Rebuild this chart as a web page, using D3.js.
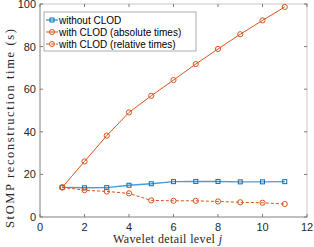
<!DOCTYPE html>
<html>
<head>
<meta charset="utf-8" />
<script src="https://d3js.org/d3.v7.min.js"></script>
<style>
  body { margin: 0; background: #fff; }
  svg text { font-family: "Liberation Sans", Arial, sans-serif; }
</style>
</head>
<body>
<div id="chart"></div>
<script>
// data
var levels = [1, 2, 3, 4, 5, 6, 7, 8, 9, 10, 11];
var withoutClod = [13.9, 13.7, 13.8, 14.9, 15.6, 16.6, 16.7, 16.7, 16.5, 16.5, 16.6];
var clodAbsolute = [13.9, 26.1, 38.2, 49.1, 56.9, 64.3, 71.8, 78.9, 85.8, 92.3, 98.6];
var clodRelative = [13.9, 12.6, 12.0, 11.1, 7.8, 7.6, 7.6, 7.3, 6.9, 6.7, 6.1];
var xTicks = [0, 2, 4, 6, 8, 10, 12];
var yTicks = [0, 20, 40, 60, 80, 100];
var seriesNames = ["without CLOD", "with CLOD (absolute times)", "with CLOD (relative times)"];

var width = 314, height = 247;
var margin = {top: 4, right: 7, bottom: 30, left: 40};

var svg = d3.select("#chart").append("svg")
  .attr("width", width)
  .attr("height", height);

var x = d3.scaleLinear().domain([0, 12]).range([margin.left, width - margin.right]);
var y = d3.scaleLinear().domain([0, 100]).range([height - margin.bottom, margin.top]);

var axisColor = "#262626";
var boxColor = "#c8c8c8";

// box
svg.append("rect")
  .attr("x", x(0)).attr("y", y(100))
  .attr("width", x(12) - x(0)).attr("height", y(0) - y(100))
  .attr("fill", "none").attr("stroke", boxColor).attr("stroke-width", 1);

// tick marks (inward, all four sides)
var tickLen = 3;
xTicks.forEach(function(t) {
  svg.append("line").attr("x1", x(t)).attr("x2", x(t)).attr("y1", y(0)).attr("y2", y(0) - tickLen).attr("stroke", axisColor).attr("stroke-width", 0.6);
  svg.append("line").attr("x1", x(t)).attr("x2", x(t)).attr("y1", y(100)).attr("y2", y(100) + tickLen).attr("stroke", axisColor).attr("stroke-width", 0.6);
  svg.append("text").attr("x", x(t)).attr("y", y(0) + 14)
    .attr("text-anchor", "middle").attr("font-size", 11).attr("fill", axisColor).text(t);
});
yTicks.forEach(function(t) {
  svg.append("line").attr("x1", x(0)).attr("x2", x(0) + tickLen).attr("y1", y(t)).attr("y2", y(t)).attr("stroke", axisColor).attr("stroke-width", 0.6);
  svg.append("line").attr("x1", x(12)).attr("x2", x(12) - tickLen).attr("y1", y(t)).attr("y2", y(t)).attr("stroke", axisColor).attr("stroke-width", 0.6);
  svg.append("text").attr("x", x(0) - 4).attr("y", y(t) + 4)
    .attr("text-anchor", "end").attr("font-size", 11).attr("fill", axisColor).text(t);
});

// axis lines (left + bottom darker)
svg.append("line").attr("x1", x(0)).attr("x2", x(12)).attr("y1", y(0)).attr("y2", y(0)).attr("stroke", "#8a8a8a").attr("stroke-width", 0.8);
svg.append("line").attr("x1", x(0)).attr("x2", x(0)).attr("y1", y(0)).attr("y2", y(100)).attr("stroke", "#8a8a8a").attr("stroke-width", 0.8);

// axis labels (LaTeX look, so serif and stretched a bit)
svg.append("text")
  .attr("x", 113).attr("y", 243)
  .attr("textLength", 109).attr("lengthAdjust", "spacing")
  .style("font-family", "'Liberation Serif', 'DejaVu Serif', serif")
  .attr("font-size", 12).attr("fill", axisColor)
  .html("Wavelet detail level <tspan font-style='italic'>j</tspan>");

svg.append("text")
  .attr("transform", "translate(14,228) rotate(-90)")
  .attr("textLength", 199).attr("lengthAdjust", "spacing")
  .style("font-family", "'Liberation Serif', 'DejaVu Serif', serif")
  .attr("font-size", 12.5).attr("fill", axisColor)
  .text("StOMP reconstruction time (s)");

var blue = "#0072BD", blueLine = "#4d9bd4", orange = "#D95319";

var line = d3.line()
  .x(function(d, i) { return x(levels[i]); })
  .y(function(d) { return y(d); });

function drawSeries(vals, color, lineColor, lw, dash, marker) {
  svg.append("path").datum(vals)
    .attr("d", line)
    .attr("fill", "none").attr("stroke", lineColor).attr("stroke-width", lw)
    .attr("stroke-dasharray", dash);
  var g = svg.append("g");
  vals.forEach(function(v, i) {
    if (marker == "square") {
      g.append("rect").attr("x", x(levels[i]) - 2).attr("y", y(v) - 2)
        .attr("width", 4).attr("height", 4)
        .attr("fill", "none").attr("stroke", color).attr("stroke-width", 1);
    } else {
      g.append("circle").attr("cx", x(levels[i])).attr("cy", y(v)).attr("r", 2.6)
        .attr("fill", "none").attr("stroke", color).attr("stroke-width", 1);
    }
  });
}

drawSeries(withoutClod, blue, blueLine, 1.4, null, "square");
drawSeries(clodAbsolute, orange, orange, 1, null, "circle");
drawSeries(clodRelative, orange, orange, 1, "3,2", "circle");

// legend
var lg = svg.append("g").attr("transform", "translate(44,12)");
lg.append("rect").attr("x", 0).attr("y", 0).attr("width", 152).attr("height", 39)
  .attr("fill", "#fff").attr("stroke", "#8a8a8a").attr("stroke-width", 0.7);
var legendItems = [
  {name: seriesNames[0], color: blue, lineColor: blueLine, lw: 1.4, dash: null, marker: "square"},
  {name: seriesNames[1], color: orange, lineColor: orange, lw: 1, dash: null, marker: "circle"},
  {name: seriesNames[2], color: orange, lineColor: orange, lw: 1, dash: "3,2", marker: "circle"}
];
legendItems.forEach(function(d, i) {
  var yy = 8 + i * 12;
  lg.append("line").attr("x1", 2).attr("x2", 14).attr("y1", yy).attr("y2", yy)
    .attr("stroke", d.lineColor).attr("stroke-width", d.lw).attr("stroke-dasharray", d.dash);
  if (d.marker == "square") {
    lg.append("rect").attr("x", 6).attr("y", yy - 2).attr("width", 4).attr("height", 4)
      .attr("fill", "none").attr("stroke", d.color);
  } else {
    lg.append("circle").attr("cx", 8).attr("cy", yy).attr("r", 2.5)
      .attr("fill", "none").attr("stroke", d.color);
  }
  lg.append("text").attr("x", 15).attr("y", yy + 3.5)
    .attr("font-size", 10).attr("fill", "#000").text(d.name);
});
</script>
</body>
</html>
